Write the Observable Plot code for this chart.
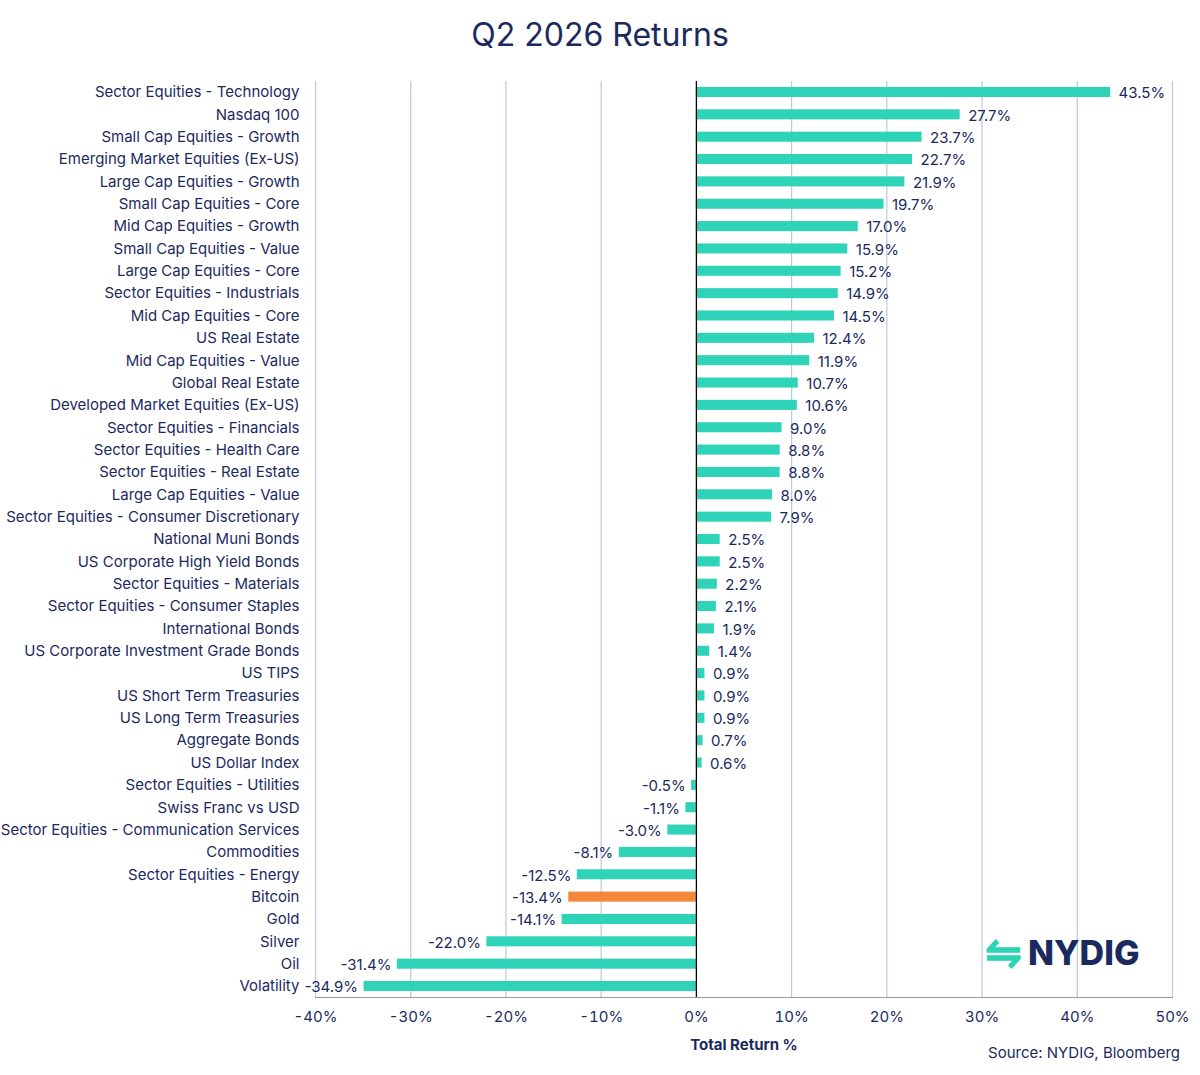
<!DOCTYPE html>
<html><head><meta charset="utf-8">
<script src="https://cdn.jsdelivr.net/npm/d3@7"></script>
<script src="https://cdn.jsdelivr.net/npm/@observablehq/plot@0.6"></script>
<style>
body{margin:0;background:#fff;font-family:Inter,"Noto Sans",sans-serif;color:#1b2a5e;width:1200px;height:1075px;position:relative;overflow:hidden}
#title{height:70px;text-align:center;font-size:32px;line-height:70px;color:#1b2a5e}
#src{position:absolute;right:20px;top:1043px;font-size:15px}
#logo{position:absolute;left:985px;top:925px;font-size:34px;font-weight:800;color:#1b2a5e;display:flex;align-items:center;gap:6px}
#logo span.i{color:#2dd4b4;font-size:44px;font-weight:700}
</style></head><body>
<div id="title">Q2 2026 Returns</div>
<div id="chart"></div>
<div id="logo"><span class="i">⇋</span>NYDIG</div>
<div id="src">Source: NYDIG, Bloomberg</div>
<script>
const categories=["Sector Equities - Technology","Nasdaq 100","Small Cap Equities - Growth","Emerging Market Equities (Ex-US)","Large Cap Equities - Growth","Small Cap Equities - Core","Mid Cap Equities - Growth","Small Cap Equities - Value","Large Cap Equities - Core","Sector Equities - Industrials","Mid Cap Equities - Core","US Real Estate","Mid Cap Equities - Value","Global Real Estate","Developed Market Equities (Ex-US)","Sector Equities - Financials","Sector Equities - Health Care","Sector Equities - Real Estate","Large Cap Equities - Value","Sector Equities - Consumer Discretionary","National Muni Bonds","US Corporate High Yield Bonds","Sector Equities - Materials","Sector Equities - Consumer Staples","International Bonds","US Corporate Investment Grade Bonds","US TIPS","US Short Term Treasuries","US Long Term Treasuries","Aggregate Bonds","US Dollar Index","Sector Equities - Utilities","Swiss Franc vs USD","Sector Equities - Communication Services","Commodities","Sector Equities - Energy","Bitcoin","Gold","Silver","Oil","Volatility"];
const returns=[43.5,27.7,23.7,22.7,21.9,19.7,17.0,15.9,15.2,14.9,14.5,12.4,11.9,10.7,10.6,9.0,8.8,8.8,8.0,7.9,2.5,2.5,2.2,2.1,1.9,1.4,0.9,0.9,0.9,0.7,0.6,-0.5,-1.1,-3.0,-8.1,-12.5,-13.4,-14.1,-22.0,-31.4,-34.9];
const xTicks=[-40,-30,-20,-10,0,10,20,30,40,50];
const highlight="Bitcoin";
const data=categories.map((c,i)=>({c,v:returns[i]}));
const navy="#1b2a5e";
const fmt=v=>v.toFixed(1)+"%";
const chart=Plot.plot({
  width:1200,height:1005,marginTop:11,marginBottom:78,marginLeft:315,marginRight:28,
  style:{fontFamily:"Inter, 'Noto Sans', sans-serif",fontSize:"15px",color:navy},
  x:{domain:[-40,50],ticks:xTicks,tickFormat:d=>d+"%",grid:false,label:null},
  y:{domain:categories,range:[10.8,927.2],paddingInner:0.55,paddingOuter:0.275,align:0.5,round:false,label:null},
  marks:[
    Plot.ruleX(xTicks.filter(d=>d!==0),{stroke:"#b9c9e2",strokeWidth:1.2}),
    Plot.barX(data,{x:"v",y:"c",fill:d=>d.c===highlight?"#f4883a":"#2fd3b8"}),
    Plot.ruleX([0],{stroke:"#000",strokeWidth:1.3}),
    Plot.text(data.filter(d=>d.v>=0),{x:"v",y:"c",text:d=>fmt(d.v),dx:8,dy:1,textAnchor:"start",fill:navy,fontSize:15}),
    Plot.text(data.filter(d=>d.v<0),{x:"v",y:"c",text:d=>fmt(d.v),dx:-6,dy:1,textAnchor:"end",fill:navy,fontSize:15}),
    Plot.axisY({tickSize:0,tickPadding:16,fill:navy,fontSize:15}),
    Plot.axisX({ticks:xTicks,tickFormat:d=>d+"%",tickSize:0,tickPadding:14,fill:navy,fontSize:15,label:"Total Return %",labelAnchor:"center",labelArrow:"none",labelOffset:52}),
    Plot.frame({anchor:"bottom",stroke:"#999"})
  ]
});
chart.querySelectorAll('[aria-label="x-axis label"] text').forEach(t=>{t.style.fontWeight="bold";t.style.fontSize="15px";t.setAttribute("fill",navy)});
document.getElementById("chart").appendChild(chart);
</script></body></html>
